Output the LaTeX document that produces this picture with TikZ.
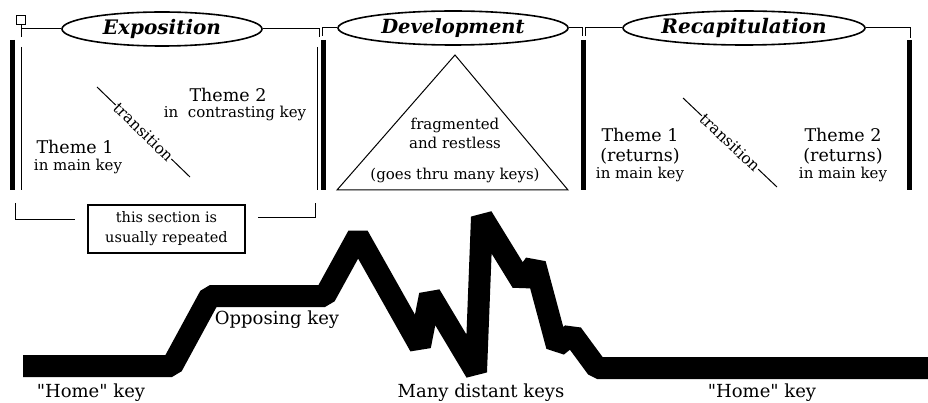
\documentclass[tikz,border=0pt]{standalone}
\usepackage{fontspec}
\setmainfont{DejaVu Serif}[Ligatures=TeXOff]
\usepackage{tikz}
\usetikzlibrary{shapes.geometric,positioning,calc}

\tikzset{
  title/.style={ellipse, draw, line width=1.6pt, minimum height=34pt, inner sep=0pt,
    font=\bfseries\itshape},
  bar/.style={line width=5pt},
  rule/.style={line width=1pt},
  theme/.style={inner sep=0pt, font=\fontsize{17.5}{20}\selectfont},
  smalltext/.style={inner sep=0pt, font=\fontsize{15}{19}\selectfont},
  keytext/.style={inner sep=0pt, font=\fontsize{18}{20}\selectfont},
  transtext/.style={sloped, fill=white, inner sep=0.5pt, font=\fontsize{15.5}{15.5}\selectfont},
}

\begin{document}
\begin{tikzpicture}[x=1pt,y=-1pt]
\useasboundingbox (0,0) rectangle (928,403);

\node[title, minimum width=200pt] (expo) at (162,29) {\fontsize{20}{20}\selectfont Exposition};
\node[title, minimum width=230pt] (devel) at (453,28) {\fontsize{19.5}{20}\selectfont Development};
\node[title, minimum width=242pt] (recap) at (744,28) {\fontsize{20}{20}\selectfont Recapitulation};
\node[draw, rule, minimum size=9pt, inner sep=0pt] (start) at (21,20) {};
\draw[rule] (start.south) -- ++(0,12);
\draw[rule] (expo.west) -- (start.south |- expo.west);
\draw[rule] (expo.east) -| ++(57,8);
\draw[rule] (devel.west) -| ++(-15,8);
\draw[rule] (devel.east) -| ++(14,8);
\draw[rule] (recap.west) -| ++(-37,8);
\draw[rule] (recap.east) -| ++(45,10);

\foreach \x in {12,323.5,583,909}
  \draw[bar] (\x,40) -- (\x,190);
\draw[rule] (21,47) -- (21,190);
\draw[rule] (317,47) -- (317,190);

\node[theme] (expot2) at (228,95) {Theme 2};
\node[smalltext] (expok2) at (235,113) {in\ \ contrasting key};
\node[theme] (expot1) at (75,147) {Theme 1};
\node[smalltext] (expok1) at (78,166) {in main key};
\coordinate (expotra) at (97,87);
\coordinate (expotrb) at (190,177);
\draw[rule] (expotra) -- node[transtext] (expotr) {transition} (expotrb);

\draw[rule] (455,55) -- (568,190) -- (337,190) -- cycle;
\node[smalltext, align=center] (frag) at (455,133) {fragmented\\and restless};
\node[smalltext] (thru) at (455,175) {(goes thru many keys)};

\node[theme, align=center] (recapt1) at (640,146) {Theme 1\\(returns)};
\node[smalltext] (recapk1) at (640,174) {in main key};
\node[theme, align=center] (recapt2) at (843,146) {Theme 2\\(returns)};
\node[smalltext] (recapk2) at (843,174) {in main key};
\coordinate (recaptra) at (683,98);
\coordinate (recaptrb) at (777,187);
\draw[rule] (recaptra) -- node[transtext] (recaptr) {transition} (recaptrb);

\node[draw, line width=2pt, minimum width=157pt, minimum height=48pt, align=center,
  font=\fontsize{14.5}{20}\selectfont] (repeat) at (166.5,229) {this section is\\usually repeated};
\draw[rule] (15,203) |- (75,220);
\draw[rule] (258,218) -| (315,203);

\draw[line width=22pt, line join=bevel] (23,366) -- (172,366) -- (210,296) -- (325,296)
  -- (358,236) -- (420,346) -- (430,295) -- (476,372) -- (482,217) -- (522,282)
  -- (535,264) -- (557,346) -- (572,334) -- (597,368) -- (935,368);

\node[keytext] (home1) at (91,393) {"Home" key};
\node[keytext] (opp) at (277,320) {Opposing key};
\node[keytext] (many) at (481,393) {Many distant keys};
\node[keytext] (home2) at (762,393) {"Home" key};
\end{tikzpicture}
\end{document}
